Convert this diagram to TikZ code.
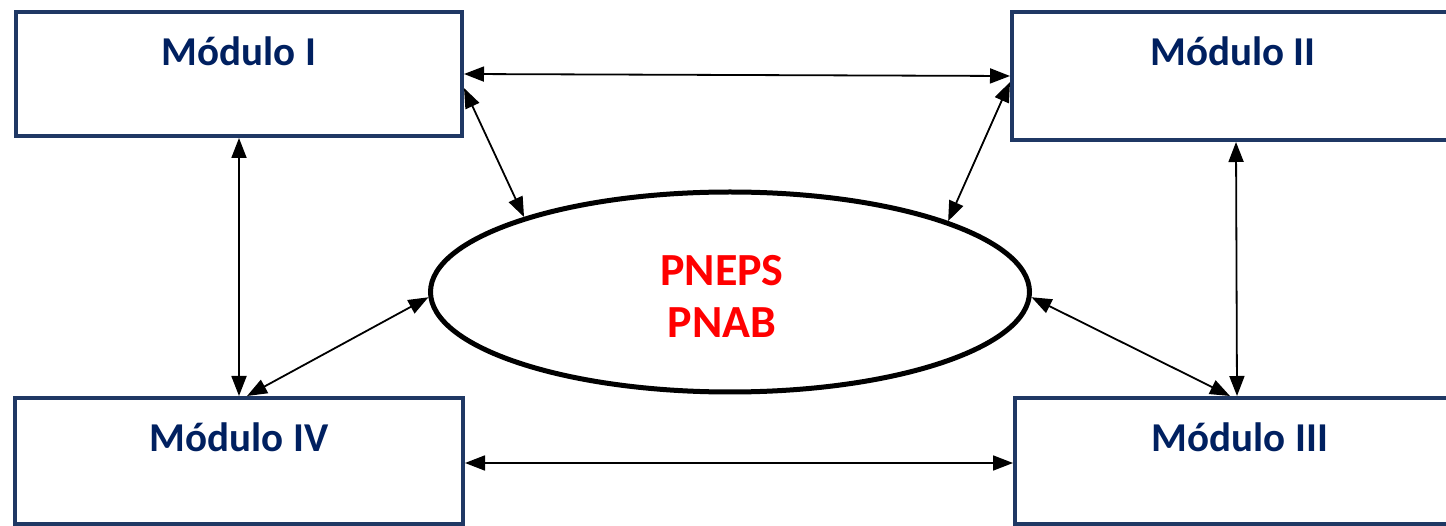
\documentclass[tikz,border=0pt]{standalone}
\usepackage{fontspec}
\setmainfont{Carlito}
\usetikzlibrary{arrows.meta,shapes.geometric,calc}
\definecolor{navy}{RGB}{31,56,100}
\definecolor{navytext}{RGB}{0,32,96}
\definecolor{pred}{RGB}{255,0,0}
\begin{document}
\begin{tikzpicture}[x=1pt,y=-1pt,
  modbox/.style={draw=navy,line width=4pt,rectangle,inner sep=0pt,outer sep=2pt,fill=white},
  modtext/.style={font=\fontsize{41}{48}\selectfont\bfseries,text=navytext,inner sep=0pt,anchor=base},
  centertext/.style={font=\fontsize{46}{52}\selectfont\bfseries,text=pred,inner sep=0pt,align=center},
  hub/.style={draw=black,line width=5pt,ellipse,inner sep=0pt,outer sep=2.5pt},
  link/.style={line width=1.8pt,{Triangle[length=20pt,width=15pt]}-{Triangle[length=20pt,width=15pt]}}]
\useasboundingbox (0,0) rectangle (1446,526);
\clip (0,0) rectangle (1446,526);
\fill[white] (0,0) rectangle (1446,526);
% boxes
\node[modbox,minimum width=446pt,minimum height=124pt] (m1) at (239,74) {};
\node[modbox,minimum width=500pt,minimum height=128pt] (m2) at (1262,76) {};
\node[modbox,minimum width=500pt,minimum height=126pt] (m3) at (1265,461) {};
\node[modbox,minimum width=448pt,minimum height=126pt] (m4) at (239,461) {};
% box labels
\node[modtext] (t1) at ([yshift=-56pt]m1.north) {Módulo I};
\node[modtext] (t2) at ($(m2.north west)+(223,56)$) {Módulo II};
\node[modtext] (t3) at ($(m3.north west)+(227,56)$) {Módulo III};
\node[modtext] (t4) at ([yshift=-56pt]m4.north) {Módulo IV};
% central ellipse
\node[hub,minimum width=599pt,minimum height=200pt] (el) at (730,292) {};
\node[centertext] (ct) at (722,296) {PNEPS\\PNAB};
% connectors
\draw[link] (m1.east) -- (m2.west);
\draw[link] ([yshift=-14pt]m1.east) -- (el.160);
\draw[link] ([yshift=-6pt]m2.west) -- (el.18);
\draw[link] (m1.south) -- (m4.north);
\draw[link] ([xshift=-26pt]m2.south) -- ([xshift=-28pt]m3.north);
\draw[link] (el.181) -- ([xshift=8pt]m4.north);
\draw[link] (el.-1) -- ([xshift=-35pt]m3.north);
\draw[link] ([yshift=-2pt]m4.east) -- ([yshift=-2pt]m3.west);
\end{tikzpicture}
\end{document}
